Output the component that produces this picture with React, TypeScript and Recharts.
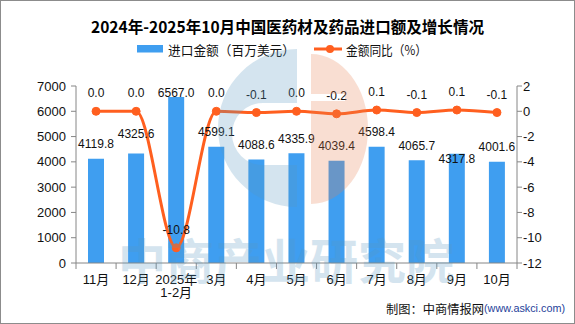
import { ComposedChart, Bar, Line, XAxis, YAxis, LabelList } from "recharts";

const months = ["11月", "12月", "2025年\n1-2月", "3月", "4月", "5月", "6月", "7月", "8月", "9月", "10月"];
const importValue = [4119.8, 4325.6, 6567.0, 4599.1, 4088.6, 4335.9, 4039.4, 4598.4, 4065.7, 4317.8, 4001.6];
const yoyGrowth = [0.0, 0.0, -10.8, 0.0, -0.1, 0.0, -0.2, 0.1, -0.1, 0.1, -0.1];
const leftTicks = [0, 1000, 2000, 3000, 4000, 5000, 6000, 7000];
const rightTicks = [-12, -10, -8, -6, -4, -2, 0, 2];

const W = 575;
const H = 324;
const MARGIN = { top: 86, right: 0, bottom: 31, left: 0 };
const LEFT_AXIS_W = 76;
const RIGHT_AXIS_W = 58;
const X_AXIS_H = 30;
const AXIS_Y = H - MARGIN.bottom - X_AXIS_H;
const BAND = (W - LEFT_AXIS_W - RIGHT_AXIS_W) / months.length;

const FONT = '"Liberation Sans", "Noto Sans CJK SC", sans-serif';
const CJK = '"Noto Sans CJK SC", "Liberation Sans", sans-serif';
const BAR_COLOR = "#3f9ef0";
const LINE_COLOR = "#ff5f1f";
const AXIS_COLOR = "#868686";

const data = months.map((m, i) => ({ month: m, value: importValue[i], yoy: yoyGrowth[i] }));

// labels that the original moved to dodge the line labels
const barLabelNudge: Record<string, number> = { "12月": -5, "2025年\n1-2月": 11, "9月": 20 };

function MonthTick({ x, payload, index }: any) {
  const lines = String(payload.value).split("\n");
  const left = x - BAND / 2;
  return (
    <g>
      <line x1={left} x2={left} y1={AXIS_Y} y2={AXIS_Y + 6} stroke={AXIS_COLOR} />
      {index === months.length - 1 && (
        <line x1={x + BAND / 2} x2={x + BAND / 2} y1={AXIS_Y} y2={AXIS_Y + 6} stroke={AXIS_COLOR} />
      )}
      {lines.map((t, i) => (
        <text key={i} x={x} y={AXIS_Y + 16 + i * 13} textAnchor="middle" dominantBaseline="central"
          fontSize={13} fontFamily={FONT} fill="#111">
          {t}
        </text>
      ))}
    </g>
  );
}

function BarValueLabel({ x, y, width, value, index }: any) {
  const nudge = barLabelNudge[months[index]] ?? 0;
  return (
    <text x={x + width / 2} y={y - 14.5 + nudge} textAnchor="middle" dominantBaseline="central"
      fontSize={12} fontFamily={FONT} fill="#111">
      {Number(value).toFixed(1)}
    </text>
  );
}

function YoyLabel({ x, y, value }: any) {
  return (
    <text x={x} y={y - 18} textAnchor="middle" dominantBaseline="central"
      fontSize={12} fontFamily={FONT} fill="#111">
      {Number(value).toFixed(1)}
    </text>
  );
}

function Overlay() {
  return (
    <svg width={W} height={H} style={{ position: "absolute", left: 0, top: 0, pointerEvents: "none" }}>
      <text x={91} y={26} dominantBaseline="central" fontSize={16} textLength={393}
        lengthAdjust="spacingAndGlyphs" fontWeight="bold" fontFamily={CJK} fill="#000">
        2024年-2025年10月中国医药材及药品进口额及增长情况
      </text>

      <rect x={137} y={45} width={26} height={7.5} fill={BAR_COLOR} />
      <text x={168} y={49} dominantBaseline="central" fontSize={13} textLength={127}
        lengthAdjust="spacingAndGlyphs" fontFamily={CJK} fill="#111">
        进口金额（百万美元）
      </text>
      <line x1={314} x2={342} y1={49} y2={49} stroke={LINE_COLOR} strokeWidth={3} />
      <circle cx={330} cy={49} r={4} fill={LINE_COLOR} />
      <text x={346} y={49} dominantBaseline="central" fontSize={13} textLength={81}
        lengthAdjust="spacingAndGlyphs" fontFamily={CJK} fill="#111">
        金额同比（%）
      </text>

      <text x={386} y={308} dominantBaseline="central" fontSize={12} textLength={98}
        lengthAdjust="spacingAndGlyphs" fontFamily={CJK} fill="#111">
        制图：中商情报网
      </text>
      <text x={484} y={308} dominantBaseline="central" fontSize={11} textLength={81}
        lengthAdjust="spacingAndGlyphs" fontFamily={FONT} fill="#1f3f9a">
        (www.askci.com)
      </text>

      {/* watermark */}
      <g opacity={0.25}>
        <path fill="#5898c0" fillRule="evenodd"
          d="M297,49 A79,79 0 0 0 297,207 Z M297,103 L263,103 A31,31 0 0 0 263,165 L297,165 Z" />
        <path fill="#e88050" fillRule="evenodd"
          d="M311,54 A57,75 0 0 1 311,204 Z M311,94 L345,94 L345,101 L311,101 Z" />
        <text x={286} y={258} textAnchor="middle" dominantBaseline="central" fontSize={48}
          fontWeight="bold" fontFamily={CJK} fill="#5898c0">
          中商产业研究院
        </text>
      </g>
      <rect x={0.5} y={0.5} width={W - 1} height={H - 1} fill="none" stroke="#8c8c8c" />
    </svg>
  );
}

export default function App() {
  return (
    <div style={{ position: "absolute", left: 0, top: 0, width: W, height: H, background: "#fff" }}>
      <ComposedChart width={W} height={H} data={data} margin={MARGIN}>
        <XAxis dataKey="month" height={X_AXIS_H} stroke={AXIS_COLOR} tickLine={false}
          tick={<MonthTick />} interval={0} />
        <YAxis yAxisId="left" width={LEFT_AXIS_W} domain={[0, 7000]} ticks={leftTicks}
          stroke={AXIS_COLOR} tickSize={5} tickMargin={5}
          tick={{ fontSize: 13, fontFamily: FONT, fill: "#111" }} />
        <YAxis yAxisId="right" orientation="right" width={RIGHT_AXIS_W} domain={[-12, 2]}
          ticks={rightTicks} stroke={AXIS_COLOR} tickSize={5} tickMargin={1}
          tick={{ fontSize: 13, fontFamily: FONT, fill: "#111" }} />
        <Bar yAxisId="left" dataKey="value" fill={BAR_COLOR} barSize={16} isAnimationActive={false}>
          <LabelList dataKey="value" content={<BarValueLabel />} />
        </Bar>
        <Line yAxisId="right" type="monotone" dataKey="yoy" stroke={LINE_COLOR} strokeWidth={3}
          dot={{ r: 4, fill: LINE_COLOR, stroke: LINE_COLOR, strokeWidth: 1 }}
          isAnimationActive={false}>
          <LabelList dataKey="yoy" content={<YoyLabel />} />
        </Line>
      </ComposedChart>
      <Overlay />
    </div>
  );
}
